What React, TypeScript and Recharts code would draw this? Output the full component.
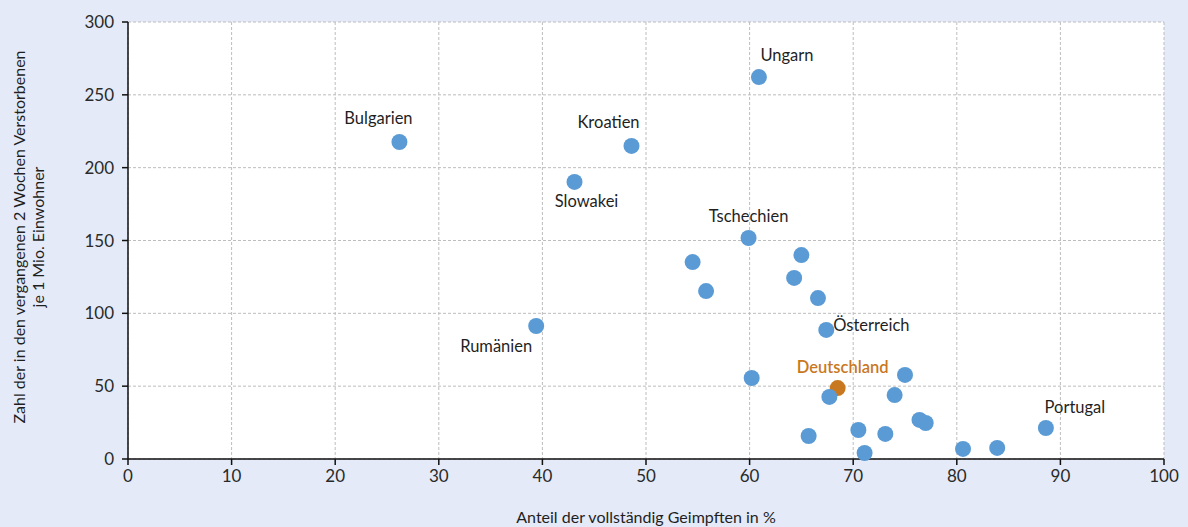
import React from "react";
import { ScatterChart, Scatter, XAxis, YAxis, CartesianGrid } from "recharts";

const countries = [
  "Bulgarien", "Kroatien", "Ungarn", "Slowakei", "Tschechien", "P6", "P7", "P8", "P9", "P10",
  "Österreich", "Rumänien", "P13", "Deutschland", "P15", "P16", "P17", "P18", "P19", "P20",
  "P21", "P22", "P23", "P24", "P25", "Portugal",
];
const vaccinated = [
  26.2, 48.6, 60.9, 43.1, 59.9, 54.5, 55.8, 65.0, 64.3, 66.6,
  67.4, 39.4, 60.2, 68.5, 67.7, 75.0, 74.0, 76.4, 77.0, 65.7,
  70.5, 73.1, 71.1, 80.6, 83.9, 88.6,
];
const deaths = [
  217.6, 214.9, 262.2, 190.2, 151.7, 135.2, 115.3, 140.0, 124.3, 110.5,
  88.6, 91.3, 55.6, 48.7, 42.6, 57.7, 43.9, 26.8, 24.7, 15.8,
  19.9, 17.2, 4.1, 6.9, 7.6, 21.3,
];
const labelled = ["Bulgarien", "Kroatien", "Ungarn", "Slowakei", "Tschechien", "Österreich", "Rumänien", "Deutschland", "Portugal"];
const xTicks = [0, 10, 20, 30, 40, 50, 60, 70, 80, 90, 100];
const yTicks = [0, 50, 100, 150, 200, 250, 300];

const labelOffsets: Record<string, [number, number, string]> = {
  Bulgarien: [-21, -18, "middle"],
  Kroatien: [-23, -18, "middle"],
  Ungarn: [28, -16, "middle"],
  Slowakei: [12, 25, "middle"],
  Tschechien: [0, -16, "middle"],
  Österreich: [7, 1, "start"],
  Rumänien: [-40, 26, "middle"],
  Deutschland: [5, -15, "middle"],
  Portugal: [29, -15, "middle"],
};

const data = countries.map((name, i) => ({ name, x: vaccinated[i], y: deaths[i] }));

const FONT = "Lato, 'Noto Sans', sans-serif";
const BLUE = "#5b9bd5";
const ORANGE = "#c8781f";
const TEXT = "#1f1f1f";

const Dot = (props: any) => {
  const { cx, cy, payload } = props;
  const isDe = payload.name === "Deutschland";
  const off = labelOffsets[payload.name];
  return (
    <g>
      <circle cx={cx} cy={cy} r={8} fill={isDe ? ORANGE : BLUE} />
      {labelled.includes(payload.name) && off ? (
        <text
          x={cx + off[0]}
          y={cy + off[1]}
          textAnchor={off[2] as any}
          fontSize={16.5}
          fontFamily={FONT}
          fill={isDe ? ORANGE : TEXT}
          fontWeight={isDe ? 600 : 400}
        >
          {payload.name}
        </text>
      ) : null}
    </g>
  );
};

const YLabel = () => (
  <g>
    <text transform="translate(25,237) rotate(-90)" textAnchor="middle" fontSize={16} fontFamily={FONT} fill={TEXT}>
      Zahl der in den vergangenen 2 Wochen Verstorbenen
    </text>
    <text transform="translate(44,237) rotate(-90)" textAnchor="middle" fontSize={16} fontFamily={FONT} fill={TEXT}>
      je 1 Mio. Einwohner
    </text>
  </g>
);

export default function App() {
  return (
    <div style={{ position: "absolute", left: 0, top: 0, width: 1188, height: 527, background: "#e4eaf8" }}>
      <ScatterChart width={1188} height={527} margin={{ top: 22, right: 24, bottom: 0, left: 0 }}>
        <CartesianGrid stroke="#bdbdbd" strokeDasharray="3 2" fill="#fff" />
        <XAxis
          type="number"
          dataKey="x"
          domain={[0, 100]}
          ticks={xTicks}
          height={68}
          axisLine={{ stroke: "#111", strokeWidth: 1.5 }}
          tickLine={{ stroke: "#111", strokeWidth: 1.5 }}
          tickSize={6}
          tickMargin={5}
          tick={{ fill: "#2a2a2a", fontSize: 17, fontFamily: FONT }}
          label={{ value: "Anteil der vollständig Geimpften in %", position: "insideBottom", offset: 4, fill: TEXT, fontSize: 16, fontFamily: FONT }}
        />
        <YAxis
          type="number"
          dataKey="y"
          domain={[0, 300]}
          ticks={yTicks}
          width={128}
          axisLine={{ stroke: "#111", strokeWidth: 1.5 }}
          tickLine={{ stroke: "#111", strokeWidth: 1.5 }}
          tickSize={6}
          tickMargin={8}
          tick={{ fill: "#2a2a2a", fontSize: 17, fontFamily: FONT }}
          label={<YLabel />}
        />
        <Scatter data={data} shape={<Dot />} isAnimationActive={false} />
      </ScatterChart>
    </div>
  );
}
